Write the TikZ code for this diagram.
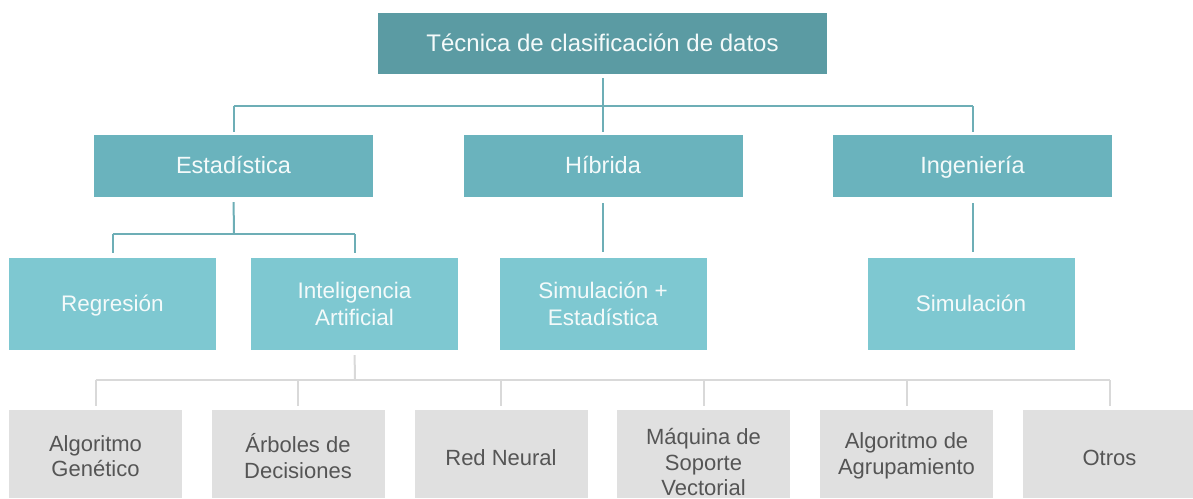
\documentclass[tikz,border=0pt]{standalone}
\usepackage{fontspec}
\setmainfont{Liberation Sans}
\definecolor{topc}{HTML}{5B9BA3}
\definecolor{midc}{HTML}{6AB3BD}
\definecolor{lowc}{HTML}{7EC8D1}
\definecolor{grayc}{HTML}{E0E0E0}
\definecolor{gtext}{HTML}{555555}
\definecolor{wtext}{HTML}{F4FAFA}
\definecolor{tline}{HTML}{6DAEB6}
\definecolor{gline}{HTML}{D9D9D9}
\newcommand{\eqh}{\vphantom{Ág}}
\begin{document}
\begin{tikzpicture}[x=1pt,y=-1pt,
  box/.style={rectangle, inner sep=0pt, align=center, text=wtext},
  topbox/.style={box, fill=topc, minimum width=449pt, minimum height=61pt, font=\fontsize{24}{28}\selectfont},
  midbox/.style={box, fill=midc, minimum width=279pt, minimum height=62pt, font=\fontsize{23.5}{28}\selectfont},
  lowbox/.style={box, fill=lowc, minimum width=207pt, minimum height=92pt, font=\fontsize{22.5}{27}\selectfont},
  graybox/.style={box, fill=grayc, text=gtext, minimum width=173pt, minimum height=88pt, font=\fontsize{22}{25.5}\selectfont},
  graytext/.style={text=gtext, inner sep=0pt, align=center, font=\fontsize{22}{25.5}\selectfont},
  tl/.style={draw=tline, line width=2pt},
  gl/.style={draw=gline, line width=2pt}]
\useasboundingbox (0,0) rectangle (1193,498);
\clip (0,0) rectangle (1193,498);
% nodes
\node[topbox] (top) at (602.5,43.5) {\eqh Técnica de clasificación de datos};
\node[midbox] (est) at (233.5,166) {\eqh Estadística};
\node[midbox] (hib) at (603,166) {\eqh Híbrida};
\node[midbox] (ing) at (972.5,166) {\eqh Ingeniería};
\node[lowbox] (reg) at (112.5,304) {\eqh Regresión};
\node[lowbox] (ia) at (354.5,304) {Inteligencia\\Artificial};
\node[lowbox] (se) at (603,304) {Simulación +\\Estadística};
\node[lowbox] (sim) at (971,304) {\eqh Simulación};
\node[graybox] (g1) at (95.5,454) {};
\node[graybox] (g2) at (298,454) {};
\node[graybox] (g3) at (501,454) {};
\node[graybox] (g4) at (703.5,454) {};
\node[graybox] (g5) at (906.5,454) {};
\node[graybox] (g6) at (1109.5,454) {};
\node[graytext] (g1t) at (95.5,456) {Algoritmo\\Genético};
\node[graytext] (g2t) at (298,456) {Árboles de\\Decisiones};
\node[graytext] (g3t) at (501,458) {\eqh Red Neural};
\node[graytext] (g4t) at (703.5,462) {Máquina de\\Soporte\\Vectorial};
\node[graytext] (g5t) at (906.5,456) {Algoritmo de\\Agrupamiento};
\node[graytext] (g6t) at (1109.5,458) {\eqh Otros};
% junction coordinates
\coordinate (b1) at (603,106);
\coordinate (b2) at (234,234);
\coordinate (b3) at (355,380);
% level 1 -> 2
\draw[tl, shorten <=4pt] (top.south) -- (top.south |- b1);
\draw[tl] (est.north |- b1) -- (ing.north |- b1);
\draw[tl, shorten >=3pt] (est.north |- b1) -- (est.north);
\draw[tl, shorten >=3pt] (hib.north |- b1) -- (hib.north);
\draw[tl, shorten >=3pt] (ing.north |- b1) -- (ing.north);
% level 2 -> 3
\draw[tl, shorten <=5pt] (est.south) -- (b2);
\draw[tl] (reg.north |- b2) -- (ia.north |- b2);
\draw[tl, shorten >=5pt] (reg.north |- b2) -- (reg.north);
\draw[tl, shorten >=5pt] (ia.north |- b2) -- (ia.north);
\draw[tl, shorten <=6pt, shorten >=6pt] (hib.south) -- (se.north);
\draw[tl, shorten <=6pt, shorten >=6pt] (ing.south) -- (ing.south |- sim.north);
% level 3 -> 4
\draw[gl, shorten <=5pt] (ia.south) -- (b3);
\draw[gl] (g1.north |- b3) -- (g6.north |- b3);
\foreach \n in {g1,g2,g3,g4,g5,g6}{
  \draw[gl, shorten >=4pt] (\n.north |- b3) -- (\n.north);
}
\end{tikzpicture}
\end{document}
